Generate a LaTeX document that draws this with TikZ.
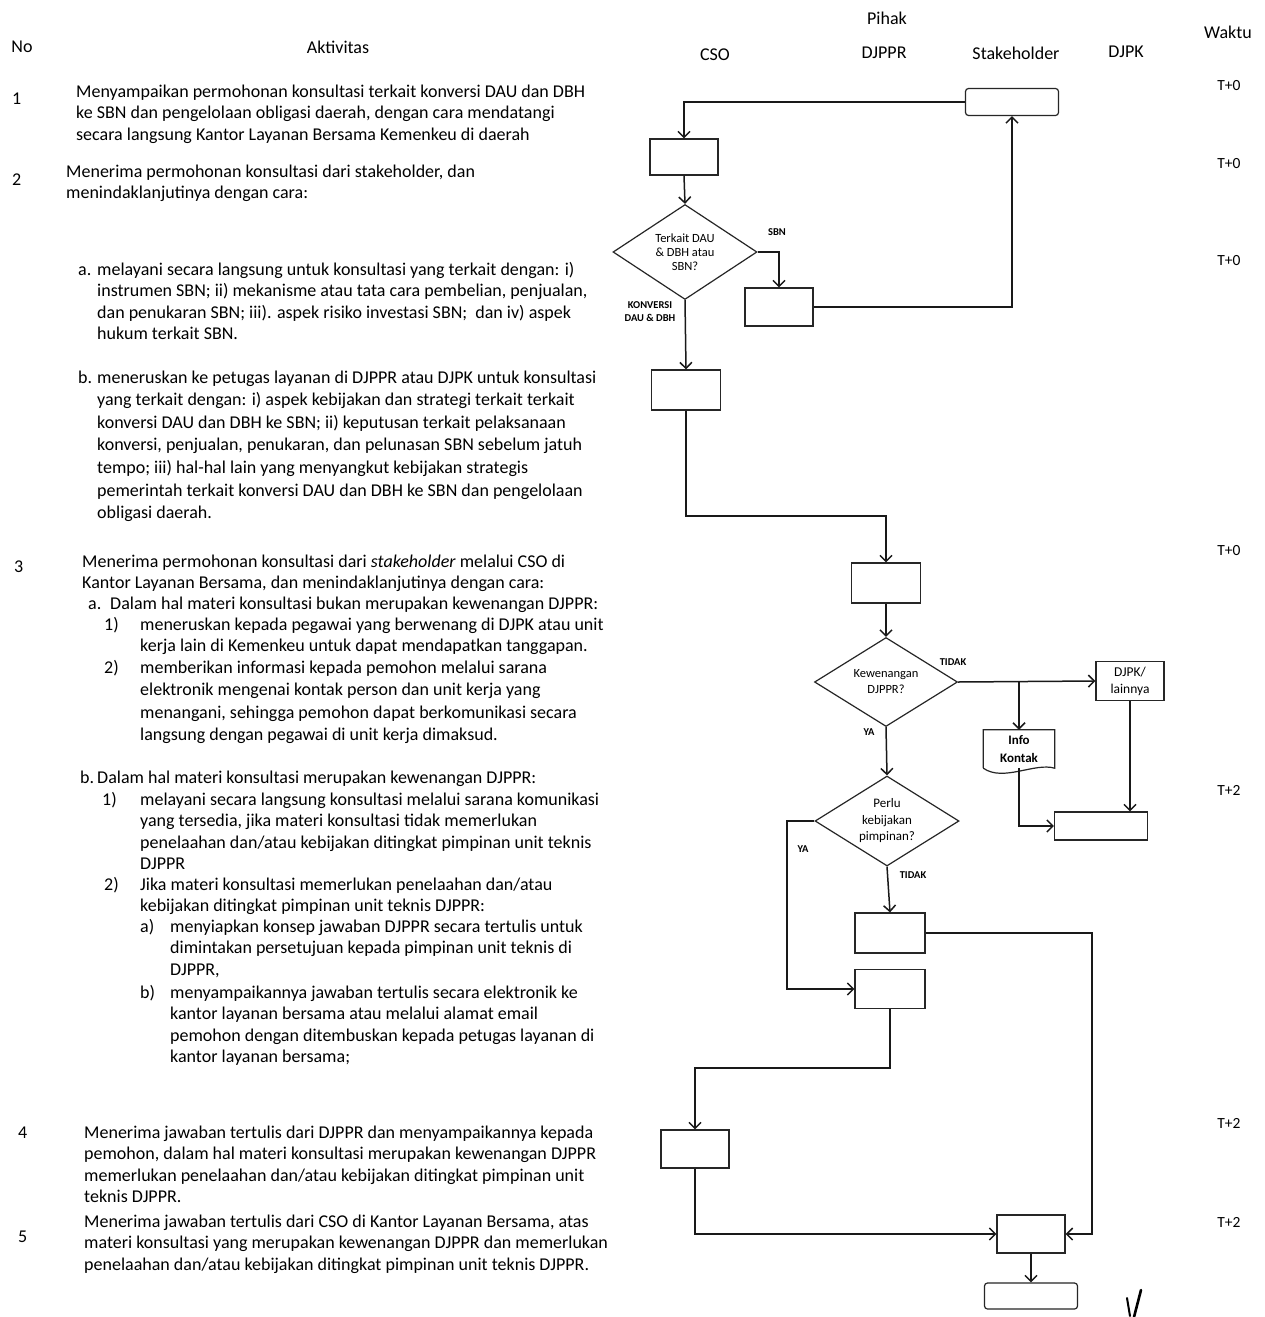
\documentclass[tikz,border=0pt]{standalone}
\usepackage{fontspec}
\setmainfont{Carlito}
\usetikzlibrary{shapes.geometric,arrows.meta,calc}
\newcommand{\ml}[1]{\begin{tabular}[t]{@{}l@{}}#1\end{tabular}}
\begin{document}
\begin{tikzpicture}[x=1pt,y=-1pt,
 tx/.style={anchor=base west, inner sep=0pt, font=\fontsize{18}{21.5}\selectfont},
 txb/.style={anchor=base west, inner sep=0pt, font=\fontsize{18}{22.6}\selectfont},
 hd/.style={inner sep=0pt, font=\fontsize{18}{21.5}\selectfont},
 tw/.style={inner sep=0pt, font=\fontsize{15.5}{18}\selectfont},
 box/.style={draw=black!85, line width=1.2pt, minimum width=68pt, minimum height=38pt, inner sep=0pt},
 rbox/.style={box, rounded corners=3pt, minimum width=93pt, minimum height=27pt},
 dia/.style={diamond, draw=black!85, line width=1.2pt, aspect=1.6, minimum width=144pt, minimum height=92pt, inner sep=0pt, align=center, font=\fontsize{12.5}{14}\selectfont},
 lab/.style={inner sep=0pt, font=\bfseries\fontsize{10.5}{13}\selectfont, align=center},
 con/.style={line width=1.5pt, draw=black!90, ->},
 >={Straight Barb[length=6pt,width=12pt]}]
\useasboundingbox (0,0) rectangle (1265,1317);
\fill[white] (0,0) rectangle (1265,1317);

% ---------- headers ----------
\node[hd] (hno) at (22,47) {No};
\node[hd] (hakt) at (338,47) {Aktivitas};
\node[hd] (hpihak) at (887,18) {Pihak};
\node[hd] (hwaktu) at (1228,32) {Waktu};
\node[hd] (hcso) at (715,55) {CSO};
\node[hd] (hdjppr) at (884,53) {DJPPR};
\node[hd] (hstake) at (1016,53) {Stakeholder};
\node[hd] (hdjpk) at (1126,52) {DJPK};

% ---------- time labels ----------
\node[tw] (w1) at (1229,86) {T+0};
\node[tw] (w2) at (1229,164) {T+0};
\node[tw] (w3) at (1229,261) {T+0};
\node[tw] (w4) at (1229,551) {T+0};
\node[tw] (w5) at (1229,790) {T+2};
\node[tw] (w6) at (1229,1123) {T+2};
\node[tw] (w7) at (1229,1222) {T+2};

% ---------- activities ----------
\node[tx] (n1) at (12,104) {1};
\node[tx] (t1) at (76,97) {\ml{Menyampaikan permohonan konsultasi terkait konversi DAU dan DBH\\
ke SBN dan pengelolaan obligasi daerah, dengan cara mendatangi\\
secara langsung Kantor Layanan Bersama Kemenkeu di daerah}};

\node[tx] (n2) at (12,185) {2};
\node[tx] (t2) at (66,177) {\ml{Menerima permohonan konsultasi dari stakeholder, dan\\
menindaklanjutinya dengan cara:}};
\node[tx] (l2a) at (78,275) {a.};
\node[tx] (t2a) at (97,275) {\ml{melayani secara langsung untuk konsultasi yang terkait dengan: i)\\
instrumen SBN; ii) mekanisme atau tata cara pembelian, penjualan,\\
dan penukaran SBN; iii). aspek risiko investasi SBN;\ \ dan iv) aspek\\
hukum terkait SBN.}};
\node[txb] (l2b) at (78,383) {b.};
\node[txb] (t2b) at (97,383) {\ml{meneruskan ke petugas layanan di DJPPR atau DJPK untuk konsultasi\\
yang terkait dengan: i) aspek kebijakan dan strategi terkait terkait\\
konversi DAU dan DBH ke SBN; ii) keputusan terkait pelaksanaan\\
konversi, penjualan, penukaran, dan pelunasan SBN sebelum jatuh\\
tempo; iii) hal-hal lain yang menyangkut kebijakan strategis\\
pemerintah terkait konversi DAU dan DBH ke SBN dan pengelolaan\\
obligasi daerah.}};

\node[tx] (n3) at (14,572) {3};
\node[tx] (t3) at (82,567) {\ml{Menerima permohonan konsultasi dari \textit{stakeholder} melalui CSO di\\
Kantor Layanan Bersama, dan menindaklanjutinya dengan cara:}};
\node[tx] (l3a) at (88,609) {a.};
\node[tx] (t3a) at (110,609) {Dalam hal materi konsultasi bukan merupakan kewenangan DJPPR:};
\node[tx] (l3a1) at (104,630) {1)};
\node[tx] (t3a1) at (140,630) {\ml{meneruskan kepada pegawai yang berwenang di DJPK atau unit\\
kerja lain di Kemenkeu untuk dapat mendapatkan tanggapan.}};
\node[txb] (l3a2) at (104,673) {2)};
\node[txb] (t3a2) at (140,673) {\ml{memberikan informasi kepada pemohon melalui sarana\\
elektronik mengenai kontak person dan unit kerja yang\\
menangani, sehingga pemohon dapat berkomunikasi secara\\
langsung dengan pegawai di unit kerja dimaksud.}};
\node[tx] (l3b) at (80,783) {b.};
\node[tx] (t3b) at (97,783) {Dalam hal materi konsultasi merupakan kewenangan DJPPR:};
\node[tx] (l3b1) at (102,805) {1)};
\node[tx] (t3b1) at (140,805) {\ml{melayani secara langsung konsultasi melalui sarana komunikasi\\
yang tersedia, jika materi konsultasi tidak memerlukan\\
penelaahan dan/atau kebijakan ditingkat pimpinan unit teknis\\
DJPPR}};
\node[tx] (l3b2) at (104,890) {2)};
\node[tx] (t3b2) at (140,890) {\ml{Jika materi konsultasi memerlukan penelaahan dan/atau\\
kebijakan ditingkat pimpinan unit teknis DJPPR:}};
\node[tx] (l3b2a) at (140,932) {a)};
\node[tx] (t3b2a) at (170,932) {\ml{menyiapkan konsep jawaban DJPPR secara tertulis untuk\\
dimintakan persetujuan kepada pimpinan unit teknis di\\
DJPPR,}};
\node[tx] (l3b2b) at (140,998) {b)};
\node[tx] (t3b2b) at (170,998) {\ml{menyampaikannya jawaban tertulis secara elektronik ke\\
kantor layanan bersama atau melalui alamat email\\
pemohon dengan ditembuskan kepada petugas layanan di\\
kantor layanan bersama;}};

\node[tx] (n4) at (18,1138) {4};
\node[tx] (t4) at (84,1138) {\ml{Menerima jawaban tertulis dari DJPPR dan menyampaikannya kepada\\
pemohon, dalam hal materi konsultasi merupakan kewenangan DJPPR\\
memerlukan penelaahan dan/atau kebijakan ditingkat pimpinan unit\\
teknis DJPPR.}};
\node[tx] (n5) at (18,1242) {5};
\node[tx] (t5) at (84,1227) {\ml{Menerima jawaban tertulis dari CSO di Kantor Layanan Bersama, atas\\
materi konsultasi yang merupakan kewenangan DJPPR dan memerlukan\\
penelaahan dan/atau kebijakan ditingkat pimpinan unit teknis DJPPR.}};

% ---------- flowchart nodes ----------
\node[rbox] (s1) at (1012,102) {};
\node[box, minimum height=36pt] (c1) at (684,157) {};
\node[dia, minimum height=95pt] (d1) at (685,252) {Terkait DAU\\\& DBH atau\\SBN?};
\node[box] (c2) at (779,307) {};
\node[box, minimum width=69pt, minimum height=40pt] (c3) at (686,390) {};
\node[box, minimum width=69pt, minimum height=40pt] (d2) at (886,583) {};
\node[dia, minimum width=143pt, minimum height=89pt, font=\fontsize{12.5}{16}\selectfont] (d3) at (886,682) {Kewenangan\\DJPPR?};
\node[box, minimum height=39pt, align=center, font=\fontsize{13.5}{17}\selectfont] (k1) at (1130,681) {DJPK/\\lainnya};
\node[inner sep=0pt, minimum width=71pt, minimum height=38pt, align=center, font=\bfseries\fontsize{13}{17.5}\selectfont] (ik) at (1019,749) {Info\\Kontak};
\draw[draw=black!85, line width=1.2pt] (ik.south west) -- (ik.north west) -- (ik.north east) -- (ik.south east)
  .. controls +(-20,-6) and +(20,14) .. (ik.south west);
\node[box, minimum width=93pt, minimum height=28pt] (k2) at (1101,826) {};
\node[dia, minimum height=90pt, font=\fontsize{13}{16.5}\selectfont] (d4) at (887,821) {Perlu\\kebijakan\\pimpinan?};
\node[box, minimum width=70pt, minimum height=40pt] (d5) at (890,933) {};
\node[box, minimum width=70pt, minimum height=39pt] (d6) at (890,989) {};
\node[box] (c4) at (695,1149) {};
\node[box] (f1) at (1031,1234) {};
\node[rbox, minimum height=26pt] (f2) at (1031,1296) {};

% ---------- connector helpers ----------
\coordinate (m1) at (686,516);
\coordinate (br) at (1019,682);
\coordinate (ya) at (787,821);
\coordinate (r1) at (1092,933);
\coordinate (m2) at (890,1068);

% ---------- connectors ----------
\draw[con] (s1.west) -| (c1.north);
\draw[con] (c1.south) -- (d1.north);
\draw[con] (d1.east) -| (c2.north);
\draw[con] (c2.east) -| (s1.south);
\draw[con] (d1.south) -- (c3.north);
\draw[con] (c3.south) -- (m1) -| (d2.north);
\draw[con] (d2.south) -- (d3.north);
\draw[con] (d3.east) -- (k1.west);
\draw[con] (br) -- (ik.north);
\draw[con] (ik.south) |- (k2.west);
\draw[con] (k1.south) -- (k1.south |- k2.north);
\draw[con] (d3.south) -- (d4.north);
\draw[con] (d4.west) -- (ya) |- (d6.west);
\draw[con] (d4.south) -- (d5.north);
\draw[con] (d5.east) -- (r1) |- (f1.east);
\draw[con] (d6.south) -- (m2) -| (c4.north);
\draw[con] (c4.south) |- (f1.west);
\draw[con] (f1.south) -- (f2.north);

% ---------- connector labels ----------
\node[lab] (lsbn) at (777,232) {SBN};
\node[lab] (lkon) at (650,312) {KONVERSI\\DAU \& DBH};
\node[lab] (ltid1) at (953,662) {TIDAK};
\node[lab] (lya1) at (869,732) {YA};
\node[lab] (lya2) at (803,849) {YA};
\node[lab] (ltid2) at (913,875) {TIDAK};

% ---------- handwritten mark ----------
\draw[line width=2.6pt, line cap=round] (1141,1290) -- (1134,1317);
\draw[line width=2pt, line cap=round] (1127,1298) -- (1130,1316);
\end{tikzpicture}
\end{document}
